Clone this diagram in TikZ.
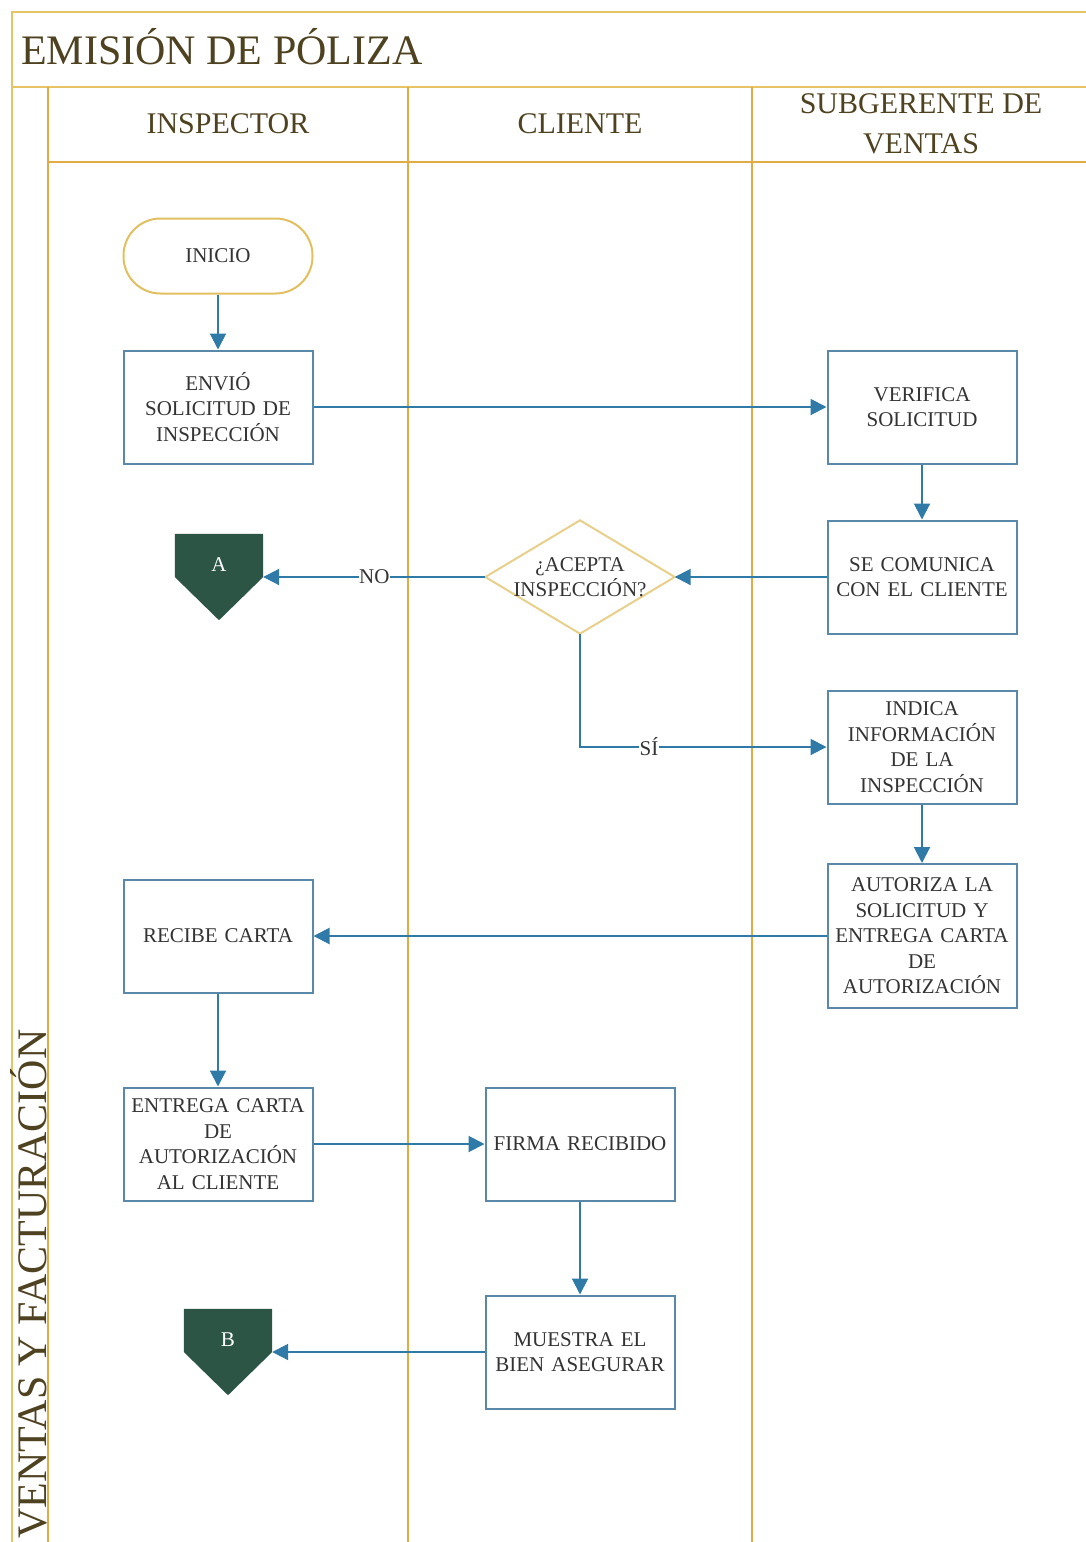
\documentclass[tikz,border=0pt]{standalone}
\usepackage{fontspec}
\setmainfont{Liberation Serif}
\usetikzlibrary{arrows.meta,calc}

\definecolor{lanegold}{HTML}{E3AC42}
\definecolor{bandgold}{HTML}{E6C463}
\definecolor{termgold}{HTML}{E2C060}
\definecolor{diagold}{HTML}{E8D08A}
\definecolor{boxblue}{HTML}{5A88A8}
\definecolor{flowblue}{HTML}{2F7AA6}
\definecolor{connectorgreen}{HTML}{2C5545}
\definecolor{headtext}{HTML}{4E4220}
\definecolor{bodytext}{HTML}{333333}

\newcommand{\boxfont}{\fontsize{21}{25.5}\selectfont}
\newcommand{\headfont}{\fontsize{30}{40}\selectfont}
\newcommand{\titlefont}{\fontsize{42}{46}\selectfont}

\begin{document}
\begin{tikzpicture}[x=1pt,y=-1pt,
  frameline/.style={draw=bandgold, line width=2.5pt},
  laneline/.style={draw=lanegold, line width=2.5pt},
  headlabel/.style={font=\headfont, text=headtext, align=center, inner sep=0pt},
  proc/.style={draw=boxblue, line width=2pt, fill=white, minimum width=189pt,
    minimum height=113pt, text width=183pt, inner sep=3pt, align=center,
    font=\boxfont, text=bodytext},
  term/.style={draw=termgold, line width=2pt, fill=white, rounded corners=37pt,
    minimum width=189pt, minimum height=75pt, font=\boxfont, text=bodytext},
  decision/.style={minimum width=189pt, minimum height=113pt, inner sep=0pt,
    align=center, font=\boxfont, text=bodytext},
  offpage/.style={minimum width=88pt, minimum height=86pt, inner sep=0pt},
  offtext/.style={font=\boxfont, text=white, inner sep=0pt},
  flow/.style={draw=flowblue, line width=2pt, -{Triangle[length=16pt,width=16pt]}},
  lbl/.style={fill=white, inner sep=0.5pt, font=\boxfont, text=bodytext}
]
\useasboundingbox (0,0) rectangle (1086,1542);
\fill[white] (0,0) rectangle (1086,1542);

% pool and lane frame
\draw[frameline] (1086,12) -- (12,12) -- (12,1542);
\draw[frameline] (12,87) -- (1086,87);
\draw[laneline] (48,87) -- (48,1542);
\draw[laneline] (48,162) -- (1086,162);
\draw[laneline] (408,87) -- (408,1542);
\draw[laneline] (752,87) -- (752,1542);

% titles
\node[font=\titlefont, text=headtext, anchor=base west, inner sep=0pt] (title) at (21,64) {EMISIÓN DE PÓLIZA};
\node[font=\titlefont, text=headtext, anchor=base west, inner sep=0pt, rotate=90] (pool) at (46,1539) {VENTAS Y FACTURACIÓN};
\node[headlabel] (hinsp) at (228,124) {INSPECTOR};
\node[headlabel] (hcli) at (580,124) {CLIENTE};
\node[headlabel] (hsub) at (921,124) {SUBGERENTE DE\\VENTAS};

% flow nodes
\node[term] (inicio) at (218,256) {INICIO};
\node[proc] (envio) at (218,407) {ENVIÓ\\SOLICITUD DE\\INSPECCIÓN};
\node[proc] (verifica) at (922,407) {VERIFICA\\SOLICITUD};
\node[proc] (comunica) at (922,577) {SE COMUNICA\\CON EL CLIENTE};
\node[decision] (acepta) at (580,577) {};
\draw[draw=diagold, line width=2pt, fill=white]
  (acepta.north) -- (acepta.east) -- (acepta.south) -- (acepta.west) -- cycle;
\node[decision] (aceptatext) at (580,577) {¿ACEPTA\\INSPECCIÓN?};
\node[proc] (indica) at (922,747) {INDICA\\INFORMACIÓN\\DE LA\\INSPECCIÓN};
\node[proc, minimum height=144pt] (autoriza) at (922,936) {AUTORIZA LA\\SOLICITUD Y\\ENTREGA CARTA\\DE\\AUTORIZACIÓN};
\node[proc] (recibe) at (218,936) {RECIBE CARTA};
\node[proc] (entrega) at (218,1144) {ENTREGA CARTA\\DE\\AUTORIZACIÓN\\AL CLIENTE};
\node[proc] (firma) at (580,1144) {FIRMA RECIBIDO};
\node[proc] (muestra) at (580,1352) {MUESTRA EL\\BIEN ASEGURAR};

% off-page connectors
\node[offpage] (A) at (219,577) {};
\fill[connectorgreen] (A.north west) -- (A.north east) -- (A.east) -- (A.south) -- (A.west) -- cycle;
\node[offtext] (Alabel) at ($(A.center)+(0,-12)$) {A};
\node[offpage] (B) at (228,1352) {};
\fill[connectorgreen] (B.north west) -- (B.north east) -- (B.east) -- (B.south) -- (B.west) -- cycle;
\node[offtext] (Blabel) at ($(B.center)+(0,-12)$) {B};

% connectors
\draw[flow] (inicio) -- (envio);
\draw[flow] (envio) -- (verifica);
\draw[flow] (verifica) -- (comunica);
\draw[flow] (comunica) -- (acepta.east);
\draw[flow] (acepta.west) -- node[lbl] {NO} (A.east);
\draw[flow] (acepta.south) |- node[lbl, pos=0.64] {SÍ} (indica.west);
\draw[flow] (indica) -- (autoriza);
\draw[flow] (autoriza) -- (recibe);
\draw[flow] (recibe) -- (entrega);
\draw[flow] (entrega) -- (firma);
\draw[flow] (firma) -- (muestra);
\draw[flow] (muestra) -- (B.east);
\end{tikzpicture}
\end{document}
